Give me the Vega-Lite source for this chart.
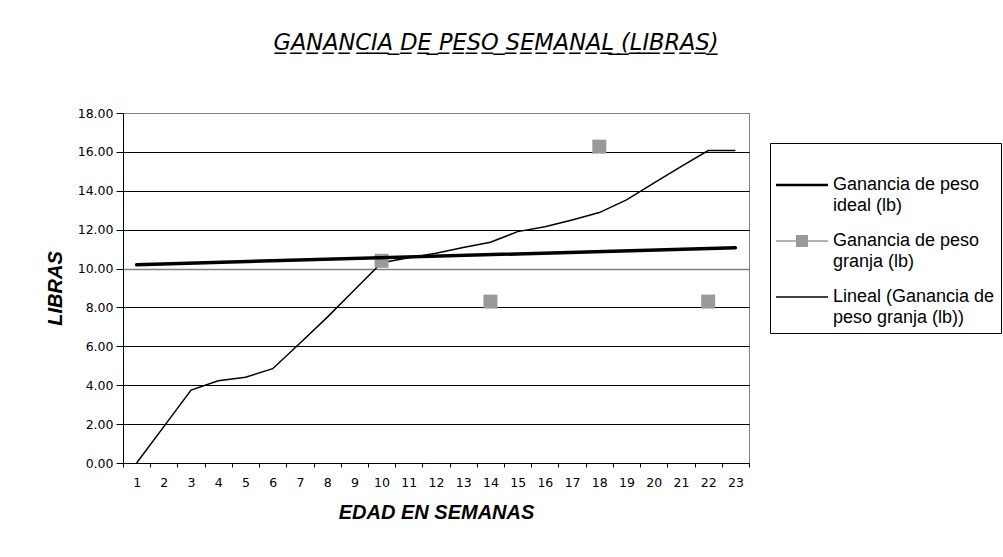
{
  "$schema": "https://vega.github.io/schema/vega-lite/v6.json",
  "autosize": "none",
  "width": 626,
  "height": 350,
  "padding": {"left": 123, "top": 113, "right": 254, "bottom": 94},
  "background": "white",
  "title": {
    "text": "G\u0332A\u0332N\u0332A\u0332N\u0332C\u0332I\u0332A\u0332 \u0332D\u0332E\u0332 \u0332P\u0332E\u0332S\u0332O\u0332 \u0332S\u0332E\u0332M\u0332A\u0332N\u0332A\u0332L\u0332 \u0332(\u0332L\u0332I\u0332B\u0332R\u0332A\u0332S\u0332)\u0332",
    "anchor": "middle",
    "frame": "group",
    "dx": 60,
    "offset": 35,
    "baseline": "alphabetic",
    "font": "DejaVu Sans",
    "fontSize": 22.5,
    "fontStyle": "italic",
    "fontWeight": "normal",
    "color": "black"
  },
  "data": {
    "values": [
      {"semana": 1, "valor": 0, "serie": "Ganancia de peso ideal (lb)"},
      {"semana": 2, "valor": 1.87, "serie": "Ganancia de peso ideal (lb)"},
      {"semana": 3, "valor": 3.75, "serie": "Ganancia de peso ideal (lb)"},
      {"semana": 4, "valor": 4.23, "serie": "Ganancia de peso ideal (lb)"},
      {"semana": 5, "valor": 4.41, "serie": "Ganancia de peso ideal (lb)"},
      {"semana": 6, "valor": 4.85, "serie": "Ganancia de peso ideal (lb)"},
      {"semana": 7, "valor": 6.16, "serie": "Ganancia de peso ideal (lb)"},
      {"semana": 8, "valor": 7.49, "serie": "Ganancia de peso ideal (lb)"},
      {"semana": 9, "valor": 8.9, "serie": "Ganancia de peso ideal (lb)"},
      {"semana": 10, "valor": 10.3, "serie": "Ganancia de peso ideal (lb)"},
      {"semana": 11, "valor": 10.55, "serie": "Ganancia de peso ideal (lb)"},
      {"semana": 12, "valor": 10.79, "serie": "Ganancia de peso ideal (lb)"},
      {"semana": 13, "valor": 11.08, "serie": "Ganancia de peso ideal (lb)"},
      {"semana": 14, "valor": 11.35, "serie": "Ganancia de peso ideal (lb)"},
      {"semana": 15, "valor": 11.9, "serie": "Ganancia de peso ideal (lb)"},
      {"semana": 16, "valor": 12.15, "serie": "Ganancia de peso ideal (lb)"},
      {"semana": 17, "valor": 12.5, "serie": "Ganancia de peso ideal (lb)"},
      {"semana": 18, "valor": 12.88, "serie": "Ganancia de peso ideal (lb)"},
      {"semana": 19, "valor": 13.53, "serie": "Ganancia de peso ideal (lb)"},
      {"semana": 20, "valor": 14.39, "serie": "Ganancia de peso ideal (lb)"},
      {"semana": 21, "valor": 15.24, "serie": "Ganancia de peso ideal (lb)"},
      {"semana": 22, "valor": 16.07, "serie": "Ganancia de peso ideal (lb)"},
      {"semana": 23, "valor": 16.07, "serie": "Ganancia de peso ideal (lb)"},
      {"semana": 10, "valor": 10.4, "serie": "Ganancia de peso granja (lb)"},
      {"semana": 14, "valor": 8.3, "serie": "Ganancia de peso granja (lb)"},
      {"semana": 18, "valor": 16.27, "serie": "Ganancia de peso granja (lb)"},
      {"semana": 22, "valor": 8.3, "serie": "Ganancia de peso granja (lb)"},
      {"semana": 1, "valor": 10.2, "serie": "Lineal (Ganancia de peso granja (lb))"},
      {"semana": 23, "valor": 11.07, "serie": "Lineal (Ganancia de peso granja (lb))"}
    ]
  },
  "encoding": {
    "x": {
      "field": "semana",
      "type": "ordinal",
      "scale": {"type": "band", "domain": [1,2,3,4,5,6,7,8,9,10,11,12,13,14,15,16,17,18,19,20,21,22,23], "paddingInner": 0, "paddingOuter": 0},
      "axis": {
        "title": "EDAD EN SEMANAS",
        "labelAngle": 0,
        "tickBand": "extent",
        "tickSize": 4,
        "labelPadding": 9,
        "labelFont": "DejaVu Sans",
        "labelFontSize": 12.5,
        "labelColor": "black",
        "domainColor": "black",
        "tickColor": "black",
        "titleFont": "Liberation Sans",
        "titleFontSize": 20,
        "titleFontWeight": "bold",
        "titleFontStyle": "italic",
        "titleColor": "black",
        "titleBaseline": "alphabetic",
        "titleY": 55,
        "titleX": 313,
        "grid": false
      }
    },
    "y": {
      "field": "valor",
      "type": "quantitative",
      "scale": {"domain": [0, 18], "nice": false},
      "axis": {
        "title": "LIBRAS",
        "values": [0,2,4,6,8,10,12,14,16,18],
        "format": ".2f",
        "tickSize": 7,
        "labelPadding": 3,
        "labelFont": "DejaVu Sans",
        "labelFontSize": 12.5,
        "labelColor": "black",
        "domainColor": "black",
        "tickColor": "black",
        "grid": true,
        "gridColor": {"expr": "datum.value == 10 || datum.value == 18 ? '#808080' : 'black'"},
        "gridWidth": {"expr": "datum.value == 10 ? 1.5 : 1"},
        "titleFont": "Liberation Sans",
        "titleFontSize": 20,
        "titleFontWeight": "bold",
        "titleFontStyle": "italic",
        "titleColor": "black",
        "titleBaseline": "alphabetic",
        "titleAngle": -90,
        "titleX": -62,
        "titleY": 175
      }
    },
    "color": {
      "field": "serie",
      "type": "nominal",
      "scale": {
        "domain": ["Ganancia de peso ideal (lb)", "Ganancia de peso granja (lb)", "Lineal (Ganancia de peso granja (lb))"],
        "range": ["#000000", "#999999", "#000000"]
      },
      "legend": {
        "orient": "none",
        "legendX": 647,
        "legendY": 30,
        "title": " ",
        "titleFontSize": 8,
        "titlePadding": 2,
        "padding": 6,
        "strokeColor": "black",
        "fillColor": "white",
        "labelFont": "Liberation Sans",
        "labelFontSize": 18,
        "labelColor": "black",
        "labelLimit": 400,
        "labelOffset": 5,
        "rowPadding": 0,
        "symbolSize": 2704,
        "labelExpr": "datum.label == 'Ganancia de peso ideal (lb)' ? ['Ganancia de peso', 'ideal (lb)'] : datum.label == 'Ganancia de peso granja (lb)' ? ['Ganancia de peso', 'granja (lb)'] : ['Lineal (Ganancia de', 'peso granja (lb))']",
        "encode": {
          "symbols": {
            "update": {
              "shape": {"signal": "datum.value == 'Ganancia de peso ideal (lb)' ? 'M-1,-0.05H1V0.05H-1Z' : datum.value == 'Ganancia de peso granja (lb)' ? 'M-1,-0.025H1V0.025H-1ZM-0.23,-0.23H0.23V0.23H-0.23Z' : 'M-1,-0.025H1V0.025H-1Z'"},
              "fill": {"signal": "datum.value == 'Ganancia de peso granja (lb)' ? '#999999' : '#000000'"},
              "fillOpacity": {"value": 1},
              "stroke": {"value": "transparent"},
              "strokeWidth": {"value": 0},
              "opacity": {"value": 1}
            }
          },
          "labels": {
            "update": {"lineHeight": {"value": 21}}
          }
        }
      }
    }
  },
  "layer": [
    {
      "transform": [{"filter": "datum.serie == 'Ganancia de peso ideal (lb)'"}],
      "mark": {"type": "line", "strokeWidth": 1.5}
    },
    {
      "transform": [{"filter": "datum.serie == 'Ganancia de peso granja (lb)'"}],
      "mark": {"type": "point", "shape": "square", "filled": true, "size": 196, "opacity": 1, "strokeWidth": 0}
    },
    {
      "transform": [{"filter": "datum.serie == 'Lineal (Ganancia de peso granja (lb))'"}],
      "mark": {"type": "line", "strokeWidth": 3.5, "strokeCap": "round"}
    }
  ],
  "config": {
    "view": {"stroke": "#808080", "strokeWidth": 1, "fill": "white"},
    "axis": {"domainWidth": 1, "tickWidth": 1}
  }
}
